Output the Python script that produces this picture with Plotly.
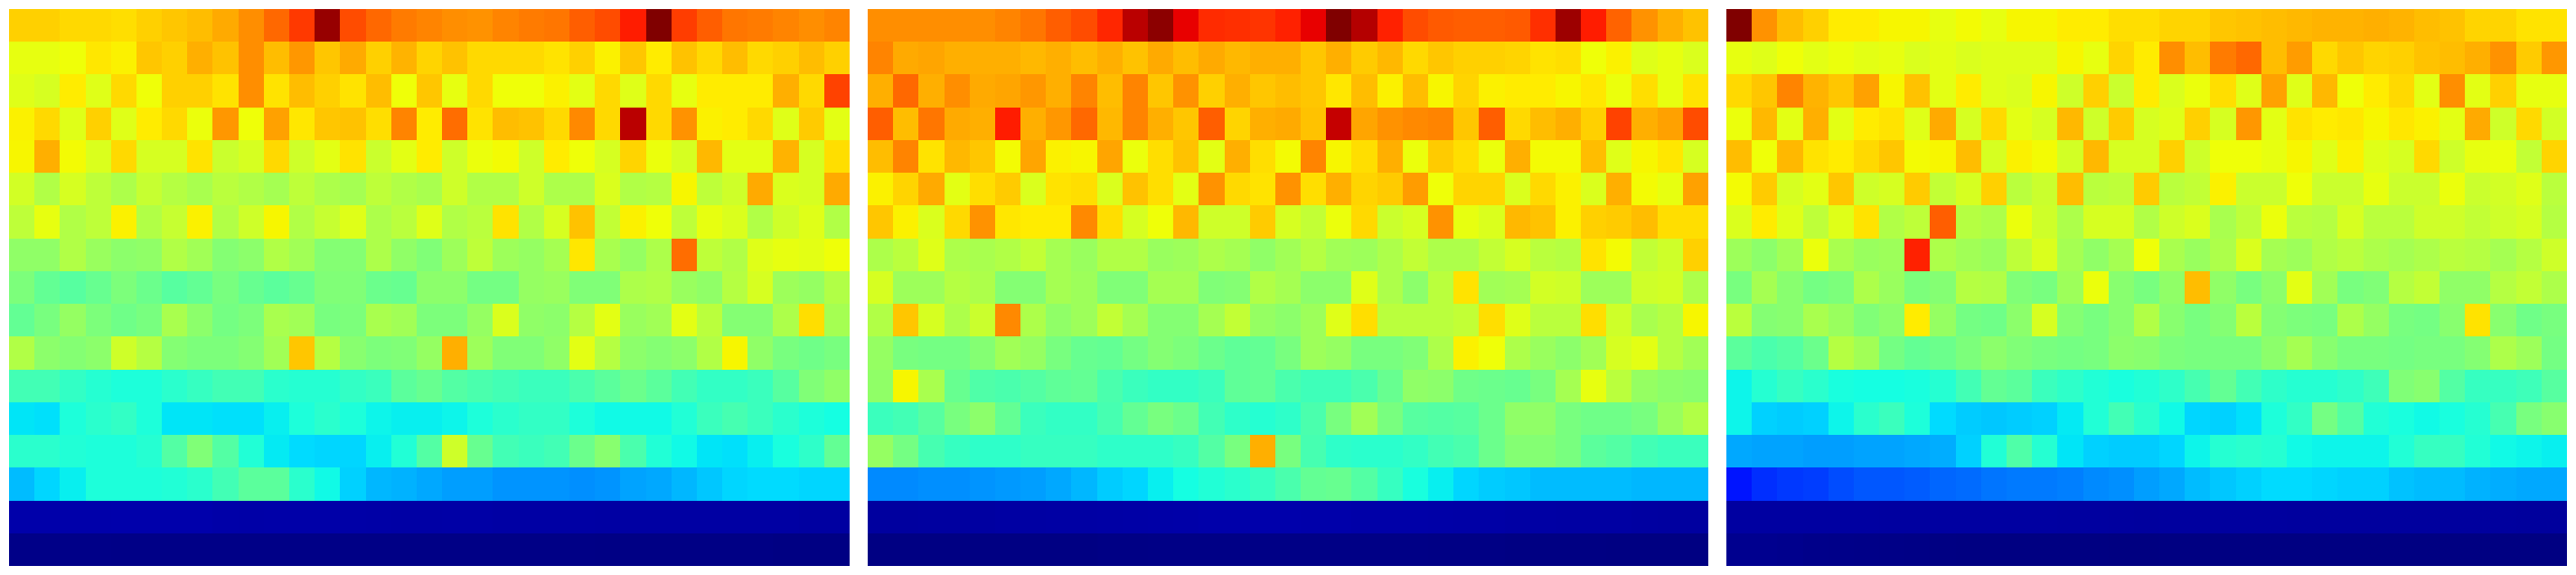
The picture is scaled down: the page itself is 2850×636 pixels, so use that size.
import plotly.graph_objects as go

panel_a = [
 [69,69,68,68,67.5,69,70,71,73,76,80,85,98,83,80,78,77, 76,75.5,77,78,78.5,81,83,88,100,84.5,81,78.5,78,77,76,77],
 [63,63,64,66.5,65.5,70,69,72.5,70.5,76,71,75,70,73,69,72,68.5, 70.5,68,68,68,67,69,65.5,70,66,70.5,68,71,68,69,71,69],
 [62,61,66,62,68,64,69,69,67,76,67,71,69,67,71,64,70, 63,68,64,64,65.5,62.5,68,62,68,63,66,66,66,72.5,68,84],
 [65.5,68,62,69,62,66,68,63.5,75,64,74,66.5,70,70.5,67.5,77,66, 79.5,67,71,70.5,68,76.5,68,95,68,75.5,65.5,66,68,62,69.5,62.5],
 [65,72.5,64.5,61.5,68,61,61,67,59.5,61,68,60,62.5,67,59.5,62.5,66, 60,63.5,64.5,60,66,64,61,68.5,63.5,61,71.5,62.5,62.5,72,61,67.5],
 [60.5,56.5,61,58,56,59,57,55.5,57.5,56.5,55,58,56,55,58,56.5,55.5, 60,56.5,56.5,60,56,56,61.5,56.5,57,65,58,60,73,61.5,61,73],
 [58,63,56.5,58,65.5,56.5,59,65.5,56.5,60,65,56.5,59,62,56,57.5,62, 56.5,57.5,67,56.5,61,70.5,58.5,65.5,64,58,63,61.5,56.5,60,62,56.5],
 [52.5,52.5,56.5,53.5,52,52.5,56.5,54.5,51,52,56.5,54.5,51,51,56,52.5,50.5, 54,58,54,53,55,66.5,55.5,53,56,79.5,58,56.5,62,63,62.5,64],
 [50,47,45.5,47.5,50,48,45.5,47,49.5,47.5,46,47.5,50.5,50.5,48,47.5,52, 52,49,49,53,53.5,50.5,50.5,56,56.5,53.5,52.5,57,61,54,53,56.5],
 [47,49.5,53,50,48.5,49.5,55.5,52,49,50,55.5,54.5,49.5,50,55.5,54.5,50, 50,53,61.5,52.5,52,57,62.5,53.5,54.5,62.5,57.5,51,51,56,67.5,55],
 [56.5,52,51,52,60,57,51,50,50,51,54.5,70,57,51.5,50,50.5,53, 72.5,54,50.5,50.5,52.5,62.5,57,52,51,52,56.5,65,52.5,49.5,48.5,49.5],
 [43,43,41,39.5,38.5,38.5,40,41.5,43,43,40,39.5,39.5,41,42,46,47.5, 45,44,43,42,42,44,46,48,46,43,41,41,42,45.5,50.5,52.5],
 [35,34.5,38.5,40,41,38.5,35,35,34.5,34.5,36,38.5,40,38.5,36.5,36,36, 36.5,38.5,40,41,41,38.5,37,37,37,39,42,43.5,42,40,38.5,37.5],
 [40,40,39,38.5,38.5,39.5,45,50.5,45,39,35.5,34,33.5,33.5,36,39,45, 60,47.5,43,42,43,48,51.5,44,39,37,35,34.5,36,38,40.5,47],
 [31,33.5,36,38.5,38.5,38.5,39,40,43,46,46,40,37,33,30.5,30,29, 28,28,27,27,27,26.5,27,28.5,29,30.5,32,33.5,34,34,33.5,33.5],
 [3.6,3.6,3.6,3.6,3.7,3.7,3.7,3.7,3.5,3.4,3.5,3.5,3.5,3.4,3.3,3.2,3.2, 3.3,3.3,3.1,3.1,3.1,3.1,3.0,3.0,3.0,3.0,3.0,3.0,3.0,3.0,2.9,2.9],
 [0.7,0.7,0.7,0.7,0.6,0.6,0.6,0.6,0.6,0.6,0.6,0.6,0.6,0.5,0.5,0.5,0.5, 0.5,0.5,0.5,0.5,0.5,0.5,0.4,0.4,0.4,0.4,0.4,0.4,0.4,0.3,0.3,0.3],
]

panel_b = [
 [76,76,76,76,76,77,78.5,81,83,87,95,99,91,86.5,86,85.5,87.5, 91,100,95.5,87.5,83,81.5,81,81,81.5,86,97.5,88,80.5,75.5,72.5,70.5],
 [77,73,73.5,72.5,72.5,72.5,71.5,72.5,71,72.5,70.5,73,71,73,71.5,72.5,72.5, 70,72.5,69.5,71.5,68,70,69,69,68.5,67,67.5,64,65.5,62,63,61.5],
 [72.5,80,72.5,76,73,73.5,75,72.5,77,71,77,70,75.5,69,72.5,70,71, 70,66.5,71,65.5,71,65,68.5,65.5,66,66,65,66.5,63.5,67.5,63,67],
 [81,71,78.5,73,72.5,88,72.5,75,80,71.5,77,72.5,70,81,68.5,72.5,73, 70.5,94,73.5,75.5,76.5,77,70,81,68,71,72.5,69,84,72.5,74,83],
 [71,77,67,71.5,70,64.5,73.5,65.5,65,73.5,63.5,67.5,70.5,62.5,72.5,67.5,64.5, 77,65,67.5,72.5,63.5,69.5,67.5,63.5,72.5,64.5,64.5,71,62,65,66.5,61],
 [65.5,68.5,73,62.5,67.5,69.5,61.5,67,67.5,61.5,70.5,67.5,62.5,75.5,68,67,75.5, 67.5,72.5,68.5,69.5,74.5,64,68.5,68.5,61.5,68,65.5,61.5,72.5,64.5,63,74],
 [70,65.5,61.5,68,75.5,66.5,66,66,76.5,67.5,61,64,71.5,60,60,69.5,61, 58.5,63.5,68,59.5,61,75.5,63,61.5,71.5,70.5,65.5,69,69.5,71,67.5,67.5],
 [56,57.5,62,56,55.5,56.5,58.5,55,53.5,56.5,56.5,53.5,54,56,55,52.5,54.5, 57,54.5,54,56,58.5,56,56,58.5,61,57.5,57,67,64.5,58.5,60,69],
 [61,54,54,57,56,51,51,55,54,50.5,50.5,55,55,50.5,51,56.5,55, 52,52,62,56,52,57.5,67,54.5,55,60.5,60,54,54,60,60.5,56],
 [56.5,70,61,56,59.5,76.5,56,52.5,54,58.5,55,51,51,55,58.5,53,52, 54,62,67.5,57.5,57.5,57.5,58.5,67.5,62,57.5,57.5,67.5,60,55.5,57,65],
 [53,49.5,49,49,51,54.5,53,49.5,47.5,47,49,51,50,48,46.5,47,49.5, 54,53,49.5,49.5,50.5,56,65.5,64,56,53.5,52,54.5,61,62.5,57,54.5],
 [52.5,65,55.5,47.5,44.5,44,45,46.5,47,44,42,41,41,42,46.5,47,44, 42.5,42.5,44,47.5,52.5,52,48.5,48,47.5,49.5,55,63,57.5,53,52,51.5],
 [42,43,45.5,49.5,52,47,42,41,41,43.5,47,49.5,48,43,40.5,39.5,40.5, 44,49.5,54.5,49.5,45.5,45,45.5,48,52.5,52.5,49.5,48.5,48.5,49.5,53.5,56.5],
 [53,49,43.5,41.5,40.5,40.5,41.5,41.5,41.5,40.5,40.5,40.5,41.5,45,49.5,72.5,49.5, 43.5,40.5,40,40,41,43,44,48,51,51,49.5,46,45,43,42,42],
 [26,26,26.5,26.5,27,27.5,28,29,30.5,32.5,33.5,36,37.5,39,40,41.5,44, 47,47.5,45,41.5,38,36,33.5,32.5,32,31,31,31,31,30.5,30.5,30.5],
 [2.7,2.7,2.8,2.8,2.9,3.0,3.0,3.1,3.1,3.2,3.3,3.4,3.5,3.6,3.6,3.7,3.7, 3.6,3.6,3.5,3.5,3.5,3.4,3.3,3.3,3.1,3.1,3.0,3.0,3.0,2.9,2.8,2.8],
 [0.3,0.3,0.3,0.3,0.3,0.3,0.3,0.3,0.3,0.4,0.4,0.5,0.5,0.5,0.5,0.5,0.5, 0.5,0.5,0.5,0.5,0.5,0.4,0.4,0.4,0.3,0.3,0.3,0.3,0.2,0.2,0.2,0.2],
]

panel_c = [
 [100,75.5,71,69,66,66,65,65,63,64.5,63,65,65,66,66,67.5,67.5, 68.5,68.5,70,70.5,71,71.5,72,72,72.5,72,71,70.5,68.5,68.5,67,67],
 [63,62,64,62.5,63.5,62.5,63,61.5,62.5,61.5,62,62,62,65,63,68.5,66, 76,71,78,80,71,74.5,68,70,68.5,69,70.5,71,72.5,75.5,69.5,75],
 [68,70,77,72,70,74,65,70.5,62.5,66,62,61.5,65,60,69,59.5,66, 61.5,63.5,67.5,62,74,62,71.5,64,66,68,62.5,76,62.5,69,63,63],
 [63.5,71.5,62.5,72.5,62.5,66,67,62,73,61,68,62.5,61,71.5,60,69.5,61, 62,69,61,75,62.5,67,66,66.5,65,66.5,65.5,62.5,73,60,68,60.5],
 [71,64,71.5,67,66,68,70,64.5,65,71,61,65.5,64.5,60.5,71.5,61,61, 69,60,64,64,63,65,62,65.5,62,61,68,60,63,63.5,58.5,68.5],
 [64.5,69.5,61,62.5,70,60,61,69.5,58.5,61,69,57.5,59.5,71,57.5,58,69.5, 57.5,58.5,65.5,59.5,59.5,64,59.5,59.5,63,59.5,59.5,63.5,59.5,60.5,62,57.5],
 [61.5,66,62,58,62,67,56.5,58,81,57,56,63.5,60,56,61,61,56.5, 60,61.5,55.5,58,63.5,57.5,57,61,57.5,57.5,60,60,58.5,60,61,57],
 [54,52,54.5,63.5,55.5,53.5,54,87.5,56,54.5,53.5,58,61.5,55,52.5,55,64, 55.5,53.5,56,61.5,55,54,56.5,57.5,56,55,56,57.5,57,55,57,60],
 [49.5,55,51.5,49,50,56,53.5,50,51,57,56.5,50.5,49.5,54,63.5,51.5,49.5, 52.5,71,52.5,49.5,52,62.5,54.5,49.5,50.5,57,58.5,52.5,52.5,57,58.5,56],
 [57.5,51,51.5,55.5,53.5,50.5,52,66,53,49,48.5,52,61,51,49.5,51.5,56.5, 51.5,49.5,51,57.5,51,50,49.5,56,53,49.5,49,51.5,67,51.5,48.5,49.5],
 [46,44,45,48,57,54.5,49,47,48,50,52,50.5,49.5,49,49.5,52,51.5, 50,49.5,49.5,49.5,52,55,51.5,49.5,49.5,49,49.5,49.5,51,56,54,49],
 [36.5,39.5,41.5,40,38,37.5,37.5,38,39.5,43,47,46,42,40.5,39,38,39, 40.5,43.5,47,43,40.5,39.5,39.5,40.5,42.5,50.5,51.5,45,41.5,41.5,42.5,45.5],
 [36.5,33,32.5,33,36.5,40,42,38.5,34,32.5,32,32.5,33,35.5,39,43,40, 37,33.5,33,34.5,38.5,41,49,45,39,38,37,38,39.5,43.5,49.5,51.5],
 [29,28.5,28.5,28,28,28.5,28.5,29,29.5,33,39,44.5,39.5,35,33,32.5,32.5, 33.5,36.5,39.5,40,39.5,37,36.5,36.5,36.5,39,41.5,41.5,39,37,36.5,36],
 [14.5,17,18,18.5,20,21,21,21.5,22.5,23,24,24.5,24.5,25,26,26.5,28, 29,31,32,33,34,34,33.5,33,33,31.5,31,31,30,29.5,29,29],
 [2.9,2.9,2.9,2.9,2.9,2.9,2.8,2.8,2.9,2.9,2.9,2.9,2.9,2.8,2.8,2.7,2.6, 2.7,2.7,2.7,2.7,2.7,2.6,2.6,2.6,2.6,2.6,2.6,2.6,2.6,2.6,2.5,2.5],
 [1.3,1.3,1.1,0.9,0.8,0.7,0.6,0.5,0.3,0.2,0.2,0.2,0.2,0.2,0.2,0.1,0.1, 0.2,0.2,0.2,0.2,0.2,0.2,0.2,0.2,0.2,0.2,0.2,0.2,0.2,0.2,0.2,0.2],
]

jet_colorscale = [
    [0.0, "#000080"], [0.11, "#0000ff"], [0.125, "#0000ff"], [0.34, "#00dbff"],
    [0.35, "#00e5f7"], [0.375, "#15ffe2"], [0.64, "#efff08"], [0.65, "#f7f600"],
    [0.66, "#ffec00"], [0.89, "#ff1300"], [0.91, "#e80000"], [1.0, "#800000"],
]

WIDTH, HEIGHT = 2850, 636
panel_spans = [(10, 940), (960, 1890), (1910, 2840)]
top, bottom = 10, 626

fig = go.Figure()
for i, (rows, (left, right)) in enumerate(zip([panel_a, panel_b, panel_c], panel_spans), start=1):
    assert len(rows) == 17 and all(len(r) == 33 for r in rows)
    fig.add_trace(go.Heatmap(
        z=rows, zmin=0, zmax=100, colorscale=jet_colorscale, showscale=False,
        hoverongaps=False, xaxis=f"x{i}", yaxis=f"y{i}",
    ))
    fig.update_layout({
        f"xaxis{i}": dict(domain=[left / WIDTH, right / WIDTH], visible=False, anchor=f"y{i}"),
        f"yaxis{i}": dict(domain=[1 - bottom / HEIGHT, 1 - top / HEIGHT], visible=False,
                          autorange="reversed", anchor=f"x{i}"),
    })

fig.update_layout(width=WIDTH, height=HEIGHT, margin=dict(l=0, r=0, t=0, b=0),
                  paper_bgcolor="white", plot_bgcolor="white", showlegend=False)
fig.write_html("out.html", config={"displayModeBar": False},
               post_script="document.body.style.margin='0';document.body.style.overflow='hidden';")
